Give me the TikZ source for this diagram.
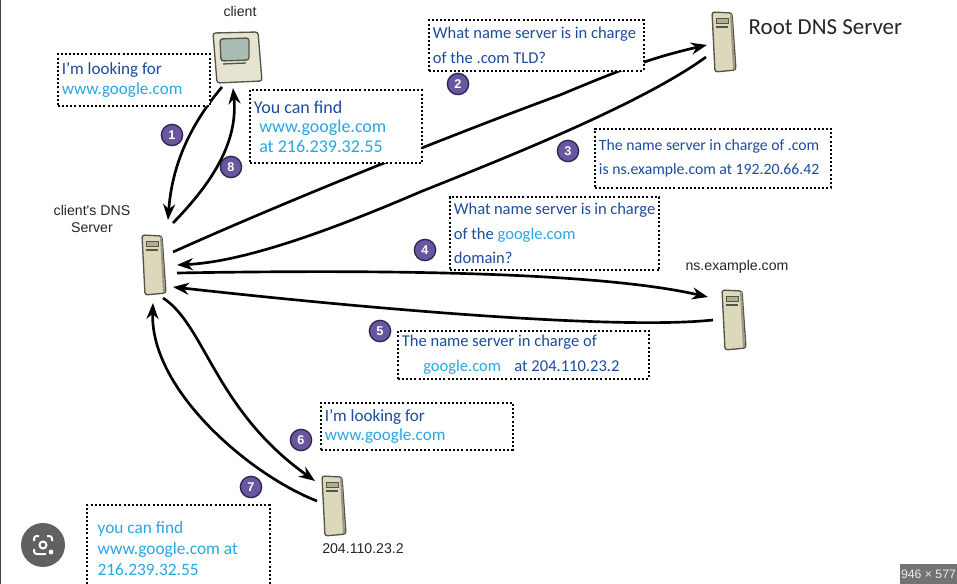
\documentclass[tikz,border=0pt]{standalone}
\usepackage{xcolor}
\usepackage{fontspec}
\usetikzlibrary{arrows.meta}
\setmainfont{Carlito}
\newfontfamily\labelfont{Liberation Sans}
\definecolor{navyink}{HTML}{1C4C9C}
\definecolor{skyink}{HTML}{2AA6E4}
\definecolor{badgefill}{HTML}{6A559F}
\definecolor{badgeline}{HTML}{2A2650}
\definecolor{boxbeige}{HTML}{DCD8BC}
\definecolor{boxline}{HTML}{55544A}
\definecolor{screengrey}{HTML}{A9BDB4}
\tikzset{
  notebox/.style={draw=black,fill=white,line width=1.4pt,dash pattern=on 1.5pt off 1.6pt,inner sep=3pt,align=flush left,anchor=north west,text=navyink,font=\fontsize{12.4}{18.5}\selectfont},
  tightnote/.style={notebox,font=\fontsize{12.8}{14.3}\selectfont},
  badge/.style={circle,draw=badgeline,fill=badgefill,line width=1pt,inner sep=0pt,minimum size=16pt,text=white,font=\labelfont\bfseries\fontsize{9.5}{10}\selectfont},
  hostlabel/.style={font=\labelfont\fontsize{10.6}{13}\selectfont,align=center,text=black!85},
  flow/.style={line width=2pt,black},
  flowhead/.style={flow,-{Stealth[length=12pt,width=9pt]}}
}
\newcommand{\blueweb}[1]{\textcolor{skyink}{#1}}
% one tower, top left corner at #1,#2
\newcommand{\serverbox}[2]{
  \begin{scope}[shift={(#1,#2)}]
    \draw[boxline,fill=boxbeige,line width=1pt,rounded corners=2pt] (0,0) -- (20,1) -- (24,58) -- (3,60) -- cycle;
    \fill[boxbeige!70!black] (18,2) -- (20,2) -- (23,57) -- (21,57) -- cycle;
    \draw[boxline,fill=boxbeige!80!black,line width=.7pt] (4,6) rectangle (16,11);
    \draw[boxline,line width=1pt] (4,15) -- (16,15);
  \end{scope}
}
\begin{document}
\begin{tikzpicture}[x=.75pt,y=-.75pt]
  \useasboundingbox (0,0) rectangle (957,584);
  \fill[white] (0,0) rectangle (957,584);
  \draw[black!75,line width=.8pt] (0,0) -- (0,584);

  % coordinates at the ends of the arrows
  \coordinate (clientout) at (222,87);
  \coordinate (clientin) at (233,88);
  \coordinate (dnstop) at (168,220);
  \coordinate (dnsfrom) at (173,223);
  \coordinate (dnsrootout) at (173,252);
  \coordinate (dnsrootin) at (177,265);
  \coordinate (dnsnsout) at (177,273);
  \coordinate (dnsnsin) at (173,287);
  \coordinate (dnslowout) at (163,298);
  \coordinate (dnslowin) at (153,303);
  \coordinate (rootin) at (707,45);
  \coordinate (rootout) at (706,57);
  \coordinate (nsin) at (708,297);
  \coordinate (nsout) at (713,320);
  \coordinate (lowin) at (315,481);
  \coordinate (lowout) at (317,501);

  \draw[flowhead] (clientout) .. controls (190,125) and (172,165) .. (dnstop);
  \draw[flowhead] (dnsfrom) .. controls (215,180) and (238,140) .. (clientin);
  \draw[flowhead] (dnsrootout) .. controls (300,195) and (470,128) .. (560,95) .. controls (620,70) and (650,58) .. (rootin);
  \draw[flowhead] (rootout) .. controls (640,105) and (500,160) .. (420,192) .. controls (320,235) and (240,262) .. (dnsrootin);
  \draw[flowhead] (dnsnsout) .. controls (350,270) and (590,270) .. (nsin);
  \draw[flowhead] (nsout) .. controls (620,330) and (380,310) .. (dnsnsin);
  \draw[flowhead] (dnslowout) .. controls (205,325) and (215,410) .. (lowin);
  \draw[flowhead] (lowout) .. controls (250,475) and (150,390) .. (dnslowin);

  \node[tightnote,text width=108pt,minimum height=39pt] (lookingnote) at (57,53) {I'm looking for\\\blueweb{www.google.com}};
  \node[tightnote,text width=123pt,minimum height=55pt,font=\fontsize{13.5}{14.8}\selectfont] (findnote) at (249,89) {You can find\\\hspace*{4pt}\blueweb{www.google.com}\\\hspace*{4pt}\blueweb{at 216.239.32.55}};
  \node[notebox,text width=155pt,minimum height=38pt] (tldnote) at (428,19) {What name server is in charge\\of the .com TLD?};
  \node[notebox,text width=171pt,minimum height=44pt,font=\fontsize{11.8}{18.5}\selectfont] (comnote) at (594,128) {The name server in charge of .com\\is ns.example.com at 192.20.66.42};
  \node[notebox,text width=151pt,minimum height=55pt] (domainnote) at (449,196) {What name server is in charge\\of the \blueweb{google.com}\\domain?};
  \node[notebox,text width=182pt,minimum height=36pt] (googlenote) at (397,330) {The name server in charge of\\\hspace*{16pt}\blueweb{google.com}\hspace*{10pt}at 204.110.23.2};
  \node[tightnote,text width=138pt,minimum height=35pt] (lookingtwo) at (320,402) {I'm looking for\\\blueweb{www.google.com}};
  \node[notebox,text width=131pt,minimum height=65pt,text=skyink,font=\fontsize{13}{15.8}\selectfont] (findtwo) at (86,504) {\hspace*{5pt}you can find\\\hspace*{5pt}www.google.com at\\\hspace*{5pt}216.239.32.55};

  \node[badge] (stepone) at (172,135) {1};
  \node[badge] (steptwo) at (458,84) {2};
  \node[badge] (stepthree) at (568,151) {3};
  \node[badge] (stepfour) at (425,250) {4};
  \node[badge] (stepfive) at (380,331) {5};
  \node[badge] (stepsix) at (301,440) {6};
  \node[badge] (stepseven) at (251,487) {7};
  \node[badge] (stepeight) at (231,167) {8};

  % client computer
  \draw[boxline,fill=boxbeige!70!white,line width=1pt,rounded corners=2pt] (213,33) -- (258,32) -- (262,81) -- (217,83) -- cycle;
  \draw[boxline,fill=screengrey,line width=1pt,rounded corners=2pt] (220,39) -- (249,38) -- (249,60) -- (221,61) -- cycle;
  \draw[boxline,line width=1pt] (223,64) -- (246,63);

  \serverbox{142}{235}
  \serverbox{712}{12}
  \serverbox{722}{290}
  \serverbox{322}{476}

  \node[hostlabel] (clientlabel) at (240,11) {client};
  \node[hostlabel] (dnslabel) at (92,219) {client's DNS\\Server};
  \node[hostlabel] (nslabel) at (737,267) {ns.example.com};
  \node[hostlabel] (lowlabel) at (363,549) {204.110.23.2};
  \node[font=\fontsize{17.2}{20}\selectfont,text=black!85,anchor=west] (rootlabel) at (744,27) {Root DNS Server};

  % lens button and size tag of the screenshot
  \node[circle,fill=black!62,minimum size=33pt,inner sep=0pt] (lensbutton) at (43,545) {};
  \draw[white,line width=1.5pt,rounded corners=2pt] (34,541) -- (34,536) -- (39,536) (52,541) -- (52,536) -- (47,536) (34,549) -- (34,554) -- (46,554);
  \draw[white,line width=1.5pt] (lensbutton) circle [radius=3.5];
  \fill[white] (51,552) circle [radius=2.4];
  \node[fill=black!55,text=black!8,font=\labelfont\fontsize{9.2}{10}\selectfont,minimum width=43pt,minimum height=15pt,inner sep=0pt] (sizetag) at (928.5,574) {946 × 577};
\end{tikzpicture}
\end{document}
